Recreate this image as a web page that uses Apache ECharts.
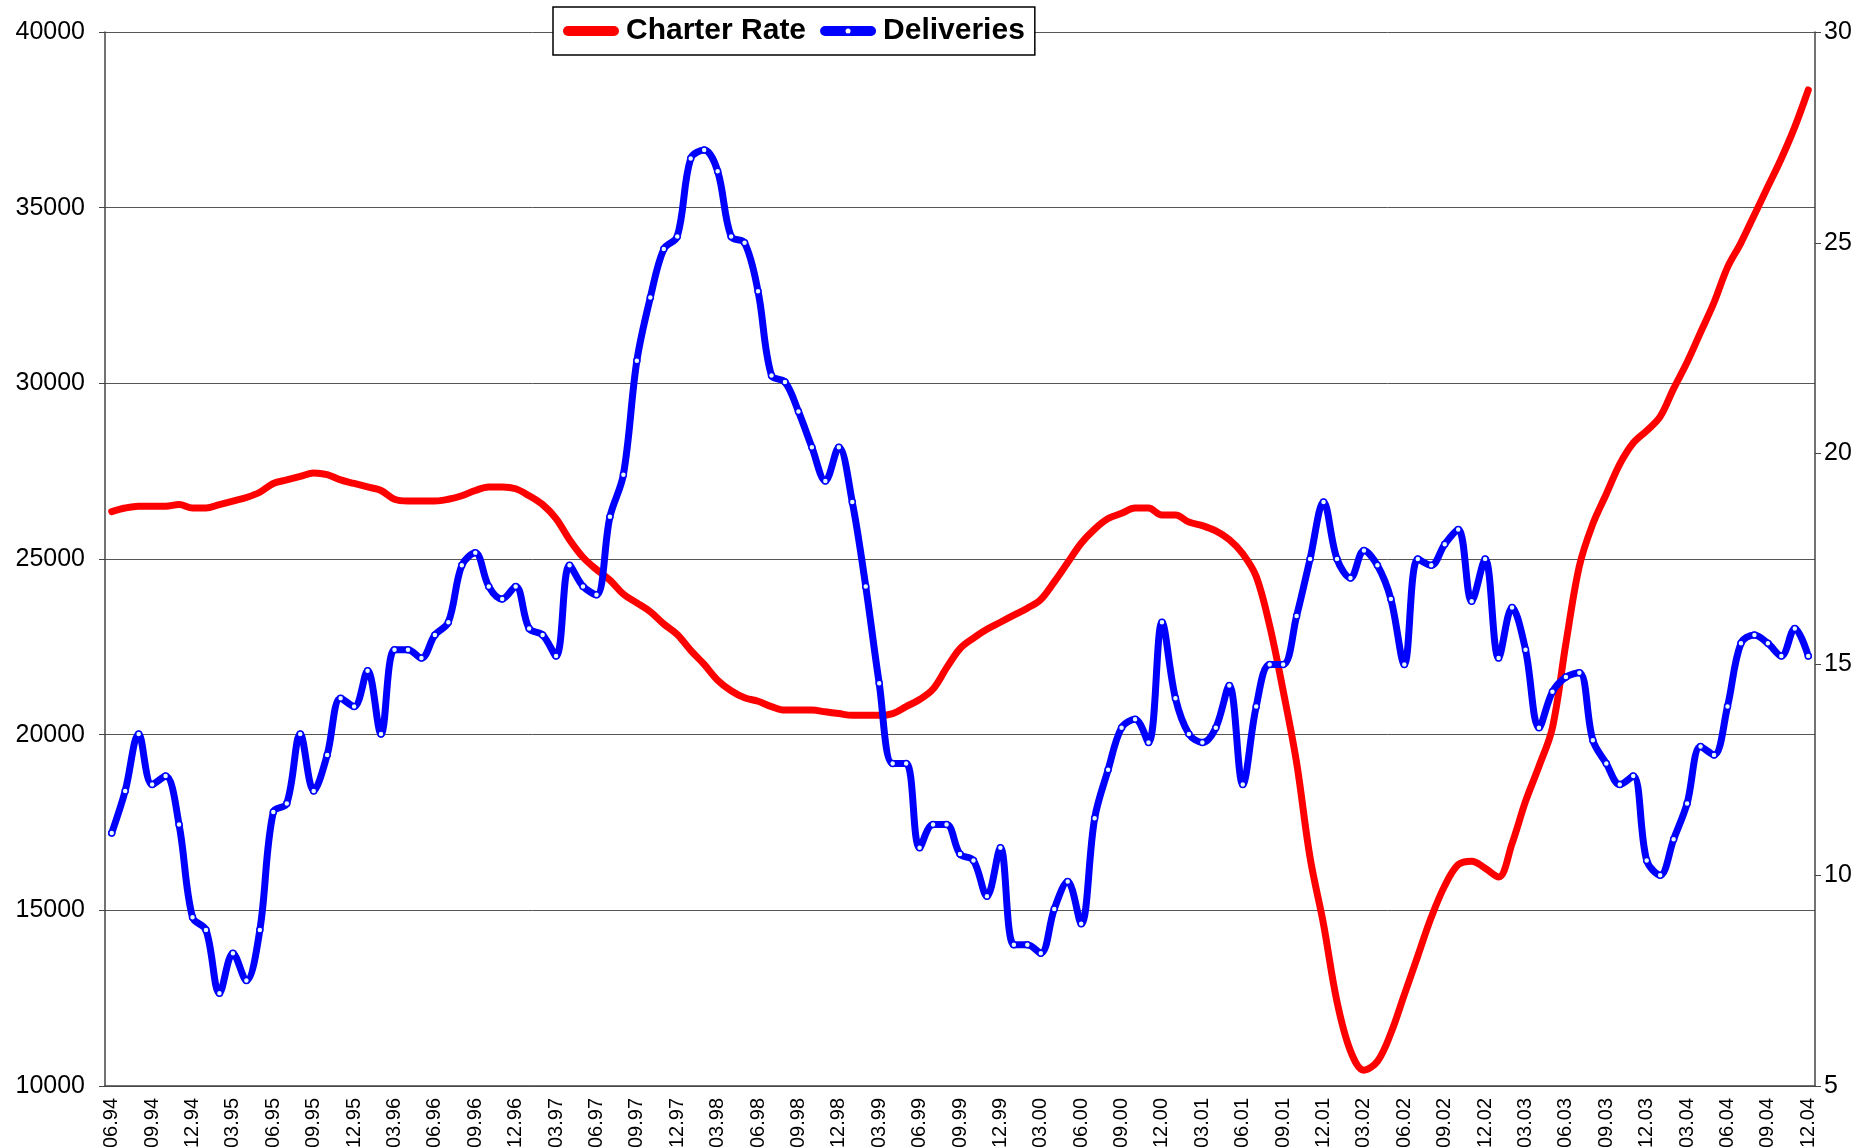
<!DOCTYPE html>
<html>
<head>
<meta charset="utf-8">
<script src="https://cdn.jsdelivr.net/npm/echarts@6/dist/echarts.min.js"></script>
<style>
  html, body { margin: 0; padding: 0; background: #fff; }
  #chart { width: 1869px; height: 1147px; }
</style>
</head>
<body>
<div id="chart"></div>
<script>
// monthly categories, 06.94 .. 12.04
const months = [
  '06.94', '07.94', '08.94', '09.94', '10.94', '11.94', '12.94',
  '01.95', '02.95', '03.95', '04.95', '05.95', '06.95', '07.95', '08.95', '09.95', '10.95', '11.95', '12.95',
  '01.96', '02.96', '03.96', '04.96', '05.96', '06.96', '07.96', '08.96', '09.96', '10.96', '11.96', '12.96',
  '01.97', '02.97', '03.97', '04.97', '05.97', '06.97', '07.97', '08.97', '09.97', '10.97', '11.97', '12.97',
  '01.98', '02.98', '03.98', '04.98', '05.98', '06.98', '07.98', '08.98', '09.98', '10.98', '11.98', '12.98',
  '01.99', '02.99', '03.99', '04.99', '05.99', '06.99', '07.99', '08.99', '09.99', '10.99', '11.99', '12.99',
  '01.00', '02.00', '03.00', '04.00', '05.00', '06.00', '07.00', '08.00', '09.00', '10.00', '11.00', '12.00',
  '01.01', '02.01', '03.01', '04.01', '05.01', '06.01', '07.01', '08.01', '09.01', '10.01', '11.01', '12.01',
  '01.02', '02.02', '03.02', '04.02', '05.02', '06.02', '07.02', '08.02', '09.02', '10.02', '11.02', '12.02',
  '01.03', '02.03', '03.03', '04.03', '05.03', '06.03', '07.03', '08.03', '09.03', '10.03', '11.03', '12.03',
  '01.04', '02.04', '03.04', '04.04', '05.04', '06.04', '07.04', '08.04', '09.04', '10.04', '11.04', '12.04'
]

// Charter Rate (left axis)
const charterRate = [
  26350, 26450, 26500, 26500, 26500, 26550, 26450,
  26450, 26550, 26650, 26750, 26900, 27150, 27250, 27350, 27450, 27400, 27250, 27150,
  27050, 26950, 26700, 26650, 26650, 26650, 26700, 26800, 26950, 27050, 27050, 27000,
  26800, 26550, 26150, 25550, 25050, 24700, 24400, 24000, 23750, 23500, 23150, 22850,
  22400, 22000, 21550, 21250, 21050, 20950, 20800, 20700, 20700, 20700, 20650, 20600,
  20550, 20550, 20550, 20600, 20800, 21000, 21300, 21900, 22450, 22750, 23000, 23200,
  23400, 23600, 23850, 24350, 24900, 25450, 25850, 26150, 26300, 26450, 26450, 26250,
  26250, 26050, 25950, 25800, 25550, 25150, 24500, 23100, 21250, 19200, 16500, 14600,
  12400, 11000, 10450, 10700, 11500, 12600, 13700, 14800, 15700, 16300, 16400, 16200,
  15950, 16900, 18100, 19100, 20200, 22600, 24800, 26000, 26850, 27700, 28300, 28650,
  29050, 29850, 30600, 31450, 32300, 33300, 34000, 34800, 35600, 36400, 37300, 38350
]

// Deliveries (right axis)
const deliveries = [
  11.0, 12.0, 13.35, 12.15, 12.35, 11.2, 9.0,
  8.7, 7.2, 8.15, 7.5, 8.7, 11.5, 11.7, 13.35, 12.0, 12.85, 14.2, 14.0,
  14.85, 13.35, 15.35, 15.35, 15.15, 15.7, 16.0, 17.35, 17.65, 16.85, 16.55, 16.85,
  15.85, 15.7, 15.2, 17.35, 16.85, 16.65, 18.5, 19.5, 22.2, 23.7, 24.85, 25.15,
  27.0, 27.2, 26.7, 25.15, 25.0, 23.85, 21.85, 21.7, 21.0, 20.15, 19.35, 20.15,
  18.85, 16.85, 14.55, 12.65, 12.65, 10.65, 11.2, 11.2, 10.5, 10.35, 9.5, 10.65,
  8.35, 8.35, 8.15, 9.2, 9.85, 8.85, 11.35, 12.5, 13.5, 13.7, 13.15, 16.0,
  14.2, 13.35, 13.15, 13.5, 14.5, 12.15, 14.0, 15.0, 15.0, 16.15, 17.5, 18.85,
  17.5, 17.05, 17.7, 17.35, 16.55, 15.0, 17.5, 17.35, 17.85, 18.2, 16.5, 17.5,
  15.15, 16.35, 15.35, 13.5, 14.35, 14.7, 14.8, 13.2, 12.65, 12.15, 12.35, 10.35,
  10.0, 10.85, 11.7, 13.05, 12.85, 14.0, 15.5, 15.7, 15.5, 15.2, 15.85, 15.2
]

const leftTicks = { min: 10000, max: 40000, interval: 5000 }
const rightTicks = { min: 5, max: 30, interval: 5 }

const font = "'Liberation Sans', Arial, sans-serif"
// legend icons: thick rounded line, the blue one with a hollow dot in the middle
const lineIcon = 'path://M5,0 H51 A5,5 0 0 1 51,10 H5 A5,5 0 0 1 5,0 Z'
const dotLineIcon = 'path://M5,0 H51 A5,5 0 0 1 51,10 H5 A5,5 0 0 1 5,0 Z M25.5,5 A2.5,2.5 0 0 0 30.5,5 A2.5,2.5 0 0 0 25.5,5 Z'

const myChart = echarts.init(document.getElementById('chart'))

myChart.setOption({
  animation: false,
  backgroundColor: '#fff',
  textStyle: { fontFamily: font },
  grid: {
    left: 105,
    right: 54,
    top: 32,
    bottom: 61,
    containLabel: false,
    outerBoundsMode: 'none'
  },
  legend: {
    left: 553,
    top: 7,
    padding: [9, 10, 9, 10],
    itemGap: 14,
    itemWidth: 56,
    itemHeight: 10,
    itemStyle: { borderWidth: 0 },
    backgroundColor: '#fff',
    borderColor: '#000',
    borderWidth: 1.5,
    textStyle: { fontSize: 30, fontWeight: 'bold', color: '#000', fontFamily: font, padding: [0, 0, 0, 2] },
    data: [
      { name: 'Charter Rate', icon: lineIcon },
      { name: 'Deliveries', icon: dotLineIcon, itemStyle: { color: '#0000ff', borderWidth: 0 } }
    ]
  },
  xAxis: {
    type: 'category',
    data: months,
    boundaryGap: true,
    axisLine: { lineStyle: { color: '#444', width: 1.5 } },
    axisTick: { interval: 2, length: 6, lineStyle: { color: '#444' } },
    axisLabel: {
      interval: 2,
      rotate: 90,
      fontSize: 20,
      color: '#000',
      margin: 12
    },
    splitLine: { show: false }
  },
  yAxis: [
    {
      type: 'value',
      min: leftTicks.min,
      max: leftTicks.max,
      interval: leftTicks.interval,
      axisLine: { show: true, lineStyle: { color: '#444', width: 1.5 } },
      axisTick: { show: true, length: 6, lineStyle: { color: '#444' } },
      axisLabel: { fontSize: 25, color: '#000', margin: 20, formatter: v => String(v) },
      splitLine: { show: true, lineStyle: { color: '#555', width: 1 } }
    },
    {
      type: 'value',
      min: rightTicks.min,
      max: rightTicks.max,
      interval: rightTicks.interval,
      axisLine: { show: true, lineStyle: { color: '#444', width: 1.5 } },
      axisTick: { show: true, length: 6, lineStyle: { color: '#444' } },
      axisLabel: { fontSize: 25, color: '#000', margin: 9, formatter: v => String(v) },
      splitLine: { show: false }
    }
  ],
  series: [
    {
      name: 'Charter Rate',
      type: 'line',
      yAxisIndex: 0,
      data: charterRate,
      smooth: 0.35,
      symbol: 'none',
      itemStyle: { color: '#ff0000' },
      lineStyle: { color: '#ff0000', width: 7, cap: 'round', join: 'round' },
      z: 2
    },
    {
      name: 'Deliveries',
      type: 'line',
      yAxisIndex: 1,
      data: deliveries,
      smooth: 0.35,
      symbol: 'circle',
      symbolSize: 6,
      itemStyle: { color: '#e6fbff', borderColor: '#0000ff', borderWidth: 1.5 },
      lineStyle: { color: '#0000ff', width: 7, cap: 'round', join: 'round' },
      z: 3
    }
  ]
})
</script>
</body>
</html>
